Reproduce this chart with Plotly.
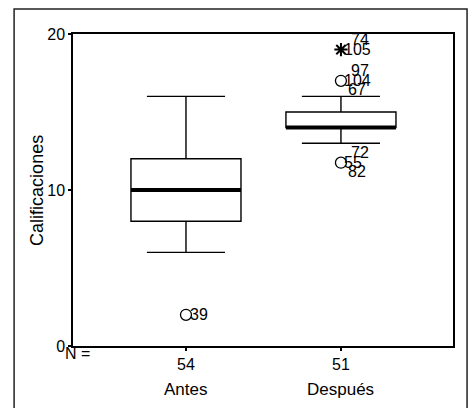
import plotly.graph_objects as go

# ---- data ----
categories = ["Antes", "Después"]
n_cases = [54, 51]
q1 = [8, 14]
median = [10, 14]
q3 = [12, 15]
lower_whisker = [6, 13]
upper_whisker = [16, 16]

# outliers (circles): group index, value, case labels
out_group = [0, 1, 1]
out_value = [2, 17, 11.75]
out_ids = [["39"], ["97", "104", "67"], ["72", "55", "82"]]

# extremes (asterisks)
ext_group = [1]
ext_value = [19]
ext_ids = [["74", "105"]]

FONT = "Liberation Sans, Arial, sans-serif"
BOX_W = 0.71
xpos = list(range(len(categories)))

fig = go.Figure()

for i in xpos:
    fig.add_trace(go.Box(
        x=[i], q1=[q1[i]], median=[median[i]], q3=[q3[i]],
        lowerfence=[lower_whisker[i]], upperfence=[upper_whisker[i]],
        width=BOX_W, whiskerwidth=0.71, boxpoints=False,
        fillcolor="white", line=dict(color="black", width=1.4),
        showlegend=False, hoverinfo="skip"))
    # thick median line
    fig.add_trace(go.Scatter(
        x=[i - BOX_W / 2, i + BOX_W / 2], y=[median[i], median[i]],
        mode="lines", line=dict(color="black", width=4),
        showlegend=False, hoverinfo="skip"))

fig.add_trace(go.Scatter(
    x=out_group, y=out_value, mode="markers",
    marker=dict(symbol="circle-open", size=11, color="black", line=dict(width=1.3)),
    showlegend=False, hoverinfo="skip"))
fig.add_trace(go.Scatter(
    x=ext_group, y=ext_value, mode="markers",
    marker=dict(symbol="asterisk-open", size=11, color="black", line=dict(width=2)),
    showlegend=False, hoverinfo="skip"))

annotations = []

def add_labels(groups, values, ids):
    for g, v, labs in zip(groups, values, ids):
        if len(labs) == 1:
            shifts = [(2, 0)]
        elif len(labs) == 2:
            shifts = [(8, 10), (1, 0)]
        else:
            shifts = [(8, 10), (1, 0), (5, -9)]
        for lab, (xs, ys) in zip(labs, shifts):
            annotations.append(dict(
                x=g, y=v, xref="x", yref="y", text=lab, showarrow=False,
                xanchor="left", yanchor="middle", xshift=xs, yshift=ys,
                font=dict(family=FONT, size=16, color="black")))

add_labels(out_group, out_value, out_ids)
add_labels(ext_group, ext_value, ext_ids)

# category names under N counts
for i, c in zip(xpos, categories):
    annotations.append(dict(
        x=i, y=-0.141, xref="x", yref="paper", text=c, showarrow=False,
        xanchor="center", yanchor="middle",
        font=dict(family=FONT, size=17, color="black")))

annotations.append(dict(
    x=0.012, y=-0.024, xref="paper", yref="paper", text="N =", showarrow=False,
    xanchor="center", yanchor="middle",
    font=dict(family=FONT, size=16, color="black")))

annotations.append(dict(
    x=-0.095, y=0.5, xref="paper", yref="paper", text="Calificaciones",
    showarrow=False, textangle=-90, xanchor="center", yanchor="middle",
    font=dict(family=FONT, size=18, color="black")))

fig.update_layout(
    width=474, height=408,
    margin=dict(l=73, r=21, t=34, b=62),
    paper_bgcolor="white", plot_bgcolor="white",
    font=dict(family=FONT, size=16, color="black"),
    showlegend=False,
    annotations=annotations,
    shapes=[dict(type="rect", xref="paper", yref="paper",
                 x0=-0.155, x1=1.037, y0=-0.3, y1=1.08,
                 line=dict(color="#222", width=1.5), layer="below")],
    xaxis=dict(range=[-0.729, 1.723], tickmode="array", tickvals=xpos,
               ticktext=[str(n) for n in n_cases], showgrid=False, zeroline=False,
               showline=True, linecolor="black", linewidth=1.5, mirror=True,
               ticks="outside", ticklen=3, tickwidth=2, tickcolor="black",
               tickfont=dict(size=16)),
    yaxis=dict(range=[0, 20], tickvals=[0, 10, 20], showgrid=False, zeroline=False,
               showline=True, linecolor="black", linewidth=1.5, mirror=True,
               ticks="outside", ticklen=3, tickwidth=2, tickcolor="black",
               tickfont=dict(size=16)),
)

fig.write_html("out.html", config={"displayModeBar": False},
               post_script="document.body.style.margin='0px';")
